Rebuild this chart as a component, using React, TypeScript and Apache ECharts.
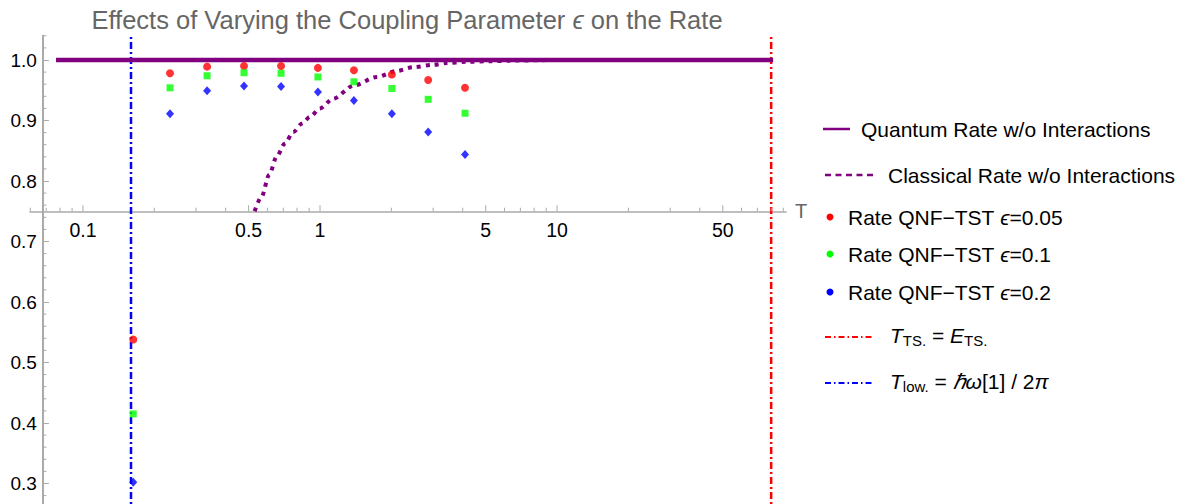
import React, { useEffect, useRef } from "react";
import * as echarts from "echarts";

const FONT = "'Liberation Sans', Arial, Helvetica, sans-serif";

// ---- data ----
const temperatures = [0.163, 0.233, 0.334, 0.478, 0.685, 0.98, 1.39, 2.01, 2.86, 4.09];
const rateEps005 = [0.538, 0.978, 0.989, 0.99, 0.99, 0.987, 0.983, 0.976, 0.967, 0.954];
const rateEps01 = [0.415, 0.954, 0.974, 0.979, 0.978, 0.972, 0.964, 0.953, 0.935, 0.912];
const rateEps02 = [0.302, 0.911, 0.949, 0.957, 0.956, 0.947, 0.933, 0.911, 0.881, 0.844];

const quantumT = [0.077, 81.5];
const quantumRate = [1.0, 1.0];

const classicalT = [0.53, 0.567, 0.61, 0.656, 0.71, 0.772, 0.84, 0.907, 1.0, 1.135, 1.39, 1.735, 2.11, 2.47, 3.0, 3.42, 4.16, 5.2, 6.5, 10, 20, 81.5];
const classicalRate = [0.75, 0.774, 0.81, 0.84, 0.862, 0.881, 0.895, 0.906, 0.92, 0.936, 0.958, 0.972, 0.982, 0.988, 0.992, 0.995, 0.997, 0.998, 0.999, 1.0, 1.0, 1.0];

const tTS = 80;
const tLow = 0.1595;

const xMajorTicks = [0.1, 0.5, 1, 5, 10, 50];
const xMinorTicks = [0.06, 0.07, 0.08, 0.09, 0.2, 0.3, 0.4, 0.6, 0.7, 0.8, 0.9, 2, 3, 4, 6, 7, 8, 9, 20, 30, 40, 60, 70, 80, 90];
const yMajorTicks = [0.3, 0.4, 0.5, 0.6, 0.7, 0.8, 0.9, 1.0];
const yMinorTicks = [
  0.26, 0.28, 0.32, 0.34, 0.36, 0.38, 0.42, 0.44, 0.46, 0.48,
  0.52, 0.54, 0.56, 0.58, 0.62, 0.64, 0.66, 0.68, 0.72, 0.74, 0.76, 0.78,
  0.82, 0.84, 0.86, 0.88, 0.92, 0.94, 0.96, 0.98, 1.02, 1.04,
];

// axis ranges / crossing
const xMin = 0.0598;
const xMax = 92.4;
const yMin = 0.2;
const yMax = 1.04;
const xAxisCrossY = 0.75;
const yAxisCrossT = 0.0678;

// layout (chart canvas is taller than the page; the page window clips it)
const W = 1188;
const H = 504;
const CH = 544;
const GRID = { left: 30, right: 402, top: 35.8, bottom: 0 };
const gridW = W - GRID.left - GRID.right;
const gridH = CH - GRID.top - GRID.bottom;
const xAxisOffset = -((xAxisCrossY - yMin) / (yMax - yMin)) * gridH;
const yAxisOffset = -((Math.log10(yAxisCrossT) - Math.log10(xMin)) / (Math.log10(xMax) - Math.log10(xMin))) * gridW;

const PURPLE = "#800080";
const AXIS_GRAY = "#aaaaaa";

const zip = (xs: number[], ys: number[]) => xs.map((x, i) => [x, ys[i]]);

export default function App() {
  const ref = useRef<HTMLDivElement>(null);

  useEffect(() => {
    if (!ref.current) return;
    const chart = echarts.init(ref.current, null, { renderer: "svg" });

    const tickData = [
      ...xMajorTicks.map((v) => [v, xAxisCrossY, 1]),
      ...xMinorTicks.map((v) => [v, xAxisCrossY, 0]),
      ...yMinorTicks.map((v) => [yAxisCrossT, v, 2]),
    ];

    const txt = (x: number, y: number, text: string, rich?: any) => ({
      type: "text",
      x,
      y,
      silent: true,
      style: {
        text,
        fontSize: 21,
        fontFamily: FONT,
        fill: "#000",
        verticalAlign: "middle",
        align: "left",
        rich,
      },
    });
    const richMath = {
      n: { fontSize: 21, fontFamily: FONT, lineHeight: 26, fill: "#000" },
      i: { fontSize: 21, fontFamily: FONT, fontStyle: "italic", lineHeight: 26, fill: "#000" },
      s: { fontSize: 15, fontFamily: FONT, lineHeight: 12, verticalAlign: "bottom", fill: "#000" },
    };

    const option: any = {
      animation: false,
      grid: { ...GRID, containLabel: false, outerBoundsMode: "none" },
      xAxis: {
        type: "log",
        logBase: 10,
        min: xMin,
        max: xMax,
        offset: xAxisOffset,
        axisLine: { show: true, onZero: false, lineStyle: { color: AXIS_GRAY, width: 1.5 } },
        axisTick: { show: false },
        axisLabel: { show: false },
        splitLine: { show: false },
        minorTick: { show: false },
        name: "T",
        nameLocation: "end",
        nameGap: 9,
        nameTextStyle: {
          color: "#666666",
          fontSize: 20,
          fontFamily: FONT,
          padding: [16, 0, 0, 0],
        },
      },
      yAxis: {
        type: "value",
        min: yMin,
        max: yMax,
        interval: 0.1,
        offset: yAxisOffset,
        axisLine: { show: true, onZero: false, lineStyle: { color: AXIS_GRAY, width: 2 } },
        axisTick: {
          show: true,
          inside: true,
          length: 6,
          customValues: yMajorTicks,
          lineStyle: { color: AXIS_GRAY, width: 1 },
        },
        axisLabel: {
          customValues: yMajorTicks,
          margin: 6,
          fontSize: 19,
          color: "#000",
          fontFamily: FONT,
          formatter: (v: number) => v.toFixed(1),
        },
        splitLine: { show: false },
      },
      series: [
        {
          name: "T_low",
          type: "line",
          data: [[tLow, yMin], [tLow, yMax]],
          symbol: "none",
          lineStyle: { color: "#0000ff", width: 2.5, type: [7, 3, 2, 3] },
          z: 1,
          silent: true,
        },
        {
          name: "T_TS",
          type: "line",
          data: [[tTS, yMin], [tTS, yMax]],
          symbol: "none",
          lineStyle: { color: "#ff0000", width: 2.5, type: [7, 3, 2, 3] },
          z: 1,
          silent: true,
        },
        {
          name: "Quantum Rate w/o Interactions",
          type: "line",
          data: zip(quantumT, quantumRate),
          symbol: "none",
          lineStyle: { color: PURPLE, width: 4.5 },
          z: 2,
          silent: true,
        },
        {
          name: "Classical Rate w/o Interactions",
          type: "line",
          data: zip(classicalT, classicalRate),
          symbol: "none",
          smooth: 0.3,
          smoothMonotone: "x",
          lineStyle: { color: PURPLE, width: 4, type: [4, 5] },
          z: 3,
          silent: true,
        },
        {
          name: "Rate QNF-TST eps=0.05",
          type: "scatter",
          data: zip(temperatures, rateEps005),
          symbol: "circle",
          symbolSize: 8,
          itemStyle: { color: "#ff0000" },
          z: 4,
        },
        {
          name: "Rate QNF-TST eps=0.1",
          type: "scatter",
          data: zip(temperatures, rateEps01),
          symbol: "rect",
          symbolSize: 7,
          itemStyle: { color: "#00ff00" },
          z: 4,
        },
        {
          name: "Rate QNF-TST eps=0.2",
          type: "scatter",
          data: zip(temperatures, rateEps02),
          symbol: "diamond",
          symbolSize: [8, 9],
          itemStyle: { color: "#0000ff" },
          z: 4,
        },
        {
          name: "ticks",
          type: "custom",
          silent: true,
          clip: false,
          data: tickData,
          z: 5,
          renderItem: (_params: any, api: any) => {
            const v = api.value(0);
            const y = api.value(1);
            const kind = api.value(2);
            const p = api.coord([v, y]);
            if (kind === 2) {
              return {
                type: "line",
                shape: { x1: p[0], y1: p[1], x2: p[0] + 3.5, y2: p[1] },
                style: { stroke: AXIS_GRAY, lineWidth: 1 },
              };
            }
            const len = kind === 1 ? 6 : 3.5;
            const children: any[] = [
              {
                type: "line",
                shape: { x1: p[0], y1: p[1], x2: p[0], y2: p[1] - len },
                style: { stroke: AXIS_GRAY, lineWidth: 1 },
              },
            ];
            if (kind === 1) {
              children.push({
                type: "text",
                x: p[0],
                y: p[1] + 9,
                style: {
                  text: String(v),
                  fontSize: 19.5,
                  fontFamily: FONT,
                  fill: "#000",
                  align: "center",
                  verticalAlign: "top",
                },
              });
            }
            return { type: "group", children };
          },
        },
      ],
      graphic: [
        {
          type: "text",
          x: 407,
          y: 20,
          silent: true,
          style: {
            text: "{n|Effects of Varying the Coupling Parameter }{i|ϵ}{n| on the Rate}",
            align: "center",
            verticalAlign: "middle",
            rich: {
              n: { fontSize: 25.5, fontFamily: FONT, fill: "#666666" },
              i: { fontSize: 25.5, fontFamily: FONT, fontStyle: "italic", fill: "#666666" },
            },
          },
        },
        // legend
        {
          type: "line",
          silent: true,
          shape: { x1: 823, y1: 129, x2: 850, y2: 129 },
          style: { stroke: PURPLE, lineWidth: 2.5 },
        },
        txt(861, 129, "Quantum Rate w/o Interactions"),
        {
          type: "line",
          silent: true,
          shape: { x1: 825, y1: 175, x2: 873, y2: 175 },
          style: { stroke: PURPLE, lineWidth: 2.5, lineDash: [6, 4.5] },
        },
        txt(888, 175, "Classical Rate w/o Interactions"),
        { type: "circle", silent: true, shape: { cx: 830, cy: 217, r: 3.5 }, style: { fill: "#ff0000" } },
        txt(848, 217, "{n|Rate QNF−TST }{i|ϵ}{n|=0.05}", richMath),
        { type: "circle", silent: true, shape: { cx: 830, cy: 254, r: 3.5 }, style: { fill: "#00ff00" } },
        txt(848, 254, "{n|Rate QNF−TST }{i|ϵ}{n|=0.1}", richMath),
        { type: "circle", silent: true, shape: { cx: 830, cy: 292, r: 3.5 }, style: { fill: "#0000ff" } },
        txt(848, 292, "{n|Rate QNF−TST }{i|ϵ}{n|=0.2}", richMath),
        {
          type: "line",
          silent: true,
          shape: { x1: 825, y1: 337, x2: 872, y2: 337 },
          style: { stroke: "#ff0000", lineWidth: 2, lineDash: [6, 3, 1.5, 3] },
        },
        txt(890, 335, "{i|T}{s|TS.}{n| = }{i|E}{s|TS.}", richMath),
        {
          type: "line",
          silent: true,
          shape: { x1: 825, y1: 383, x2: 872, y2: 383 },
          style: { stroke: "#0000ff", lineWidth: 2, lineDash: [6, 3, 1.5, 3] },
        },
        txt(890, 381, "{i|T}{s|low.}{n| = }{i|ℏω}{n|[1] / 2}{i|π}", richMath),
      ],
    };

    chart.setOption(option);
    return () => chart.dispose();
  }, []);

  return (
    <div
      style={{
        position: "absolute",
        left: 0,
        top: 0,
        width: W,
        height: H,
        overflow: "hidden",
        background: "#fff",
      }}
    >
      <div ref={ref} style={{ width: W, height: CH }} />
    </div>
  );
}
